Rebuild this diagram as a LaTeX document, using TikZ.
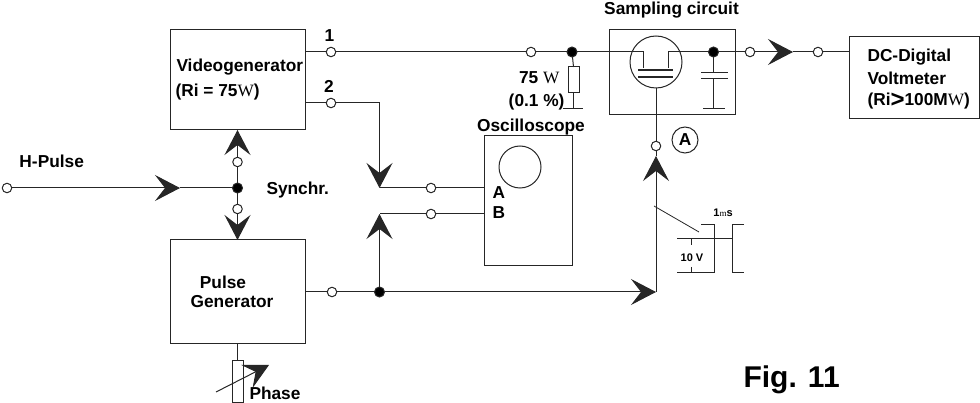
\documentclass[tikz,border=0pt]{standalone}
\usepackage{fontspec}
\setmainfont{Liberation Sans}
\newfontfamily\symfont{Liberation Serif}
\usetikzlibrary{arrows.meta}
\newcommand{\ohm}{{\symfont\mdseries W}}
\tikzset{
  box/.style={draw,rectangle,inner sep=0pt,outer sep=0pt},
  term/.style={draw,circle,fill=white,inner sep=0pt,minimum size=9.5pt,outer sep=0pt},
  jnc/.style={draw,circle,fill=black,inner sep=0pt,minimum size=10pt,outer sep=0pt},
  lbl/.style={inner sep=0pt,font=\fontsize{17.3}{20}\selectfont\bfseries},
  sm/.style={inner sep=0pt,font=\fontsize{11}{13}\selectfont\bfseries},
  big/.style={-{Stealth[length=25pt,width=26pt,inset=10pt]}},
}
\begin{document}
\begin{tikzpicture}[x=1pt,y=-1pt,line width=1pt,draw=black!85]
  \useasboundingbox (0,0) rectangle (980,403);
  %
  % Boxes
  \node[box,minimum width=135pt,minimum height=100pt] (vgen) at (237.5,80) {};
  \node[box,minimum width=135pt,minimum height=104pt] (pgen) at (237.5,292) {};
  \node[box,minimum width=88pt,minimum height=130pt] (scope) at (528,201) {};
  \node[box,minimum width=126pt,minimum height=85pt] (samp) at (672,72.5) {};
  \node[box,minimum width=130pt,minimum height=82pt] (dvm) at (914,78) {};
  \node[box,minimum width=11pt,minimum height=42pt] (phres) at (237.5,381) {};
  \node[box,minimum width=11pt,minimum height=26pt] (rload) at (573.5,80) {};
  %
  % Terminals and junctions
  \node[term] (tone) at (331,52) {};
  \node[term] (ttwo) at (331,103) {};
  \node[term] (tin) at (531,52) {};
  \node[jnc] (jin) at (572,52) {};
  \node[jnc] (jcap) at (713.5,52) {};
  \node[term] (tout) at (750,52) {};
  \node[term] (tdvm) at (818,52) {};
  \node[term] (thp) at (7,188) {};
  \node[jnc] (jsyn) at (237.5,188) {};
  \node[term] (tup) at (237.5,162) {};
  \node[term] (tdn) at (237.5,209) {};
  \node[term] (ta) at (431,188) {};
  \node[term] (tb) at (431,214) {};
  \node[term] (tpg) at (332,292) {};
  \node[jnc] (jpg) at (379.5,292) {};
  \node[term] (tgrid) at (656,146) {};
  %
  % Arrow ends
  \coordinate (acha) at (379.5,188);
  \coordinate (achb) at (379.5,214);
  \coordinate (ahp) at (180,188);
  \coordinate (aout) at (793,52);
  \coordinate (apg) at (656,292);
  \coordinate (agrid) at (656,156);
  %
  % Signal lines
  \draw (tone -| vgen.east) -- (tone) -- (tin) -- (jin) -- (643,52) -- (643,68);
  \draw (668,68) -- (668,52) -- (jcap) -- (tout);
  \draw[big] (tout) -- (aout);
  \draw (aout) -- (tdvm) -- (tdvm -| dvm.west);
  \draw (ttwo -| vgen.east) -- (ttwo);
  \draw[big] (ttwo) -- (379.5,103) -- (acha);
  \draw (acha) -- (ta) -- (ta -| scope.west);
  \draw (tb -| scope.west) -- (tb) -- (achb);
  \draw[big] (jpg) -- (achb);
  \draw[big] (thp) -- (ahp);
  \draw (ahp) -- (jsyn);
  \draw (jsyn) -- (tup);
  \draw[big] (tup) -- (vgen.south);
  \draw (jsyn) -- (tdn);
  \draw[big] (tdn) -- (pgen.north);
  \draw (tpg -| pgen.east) -- (tpg) -- (jpg);
  \draw[big] (jpg) -- (apg);
  \draw[big] (apg) -- (agrid);
  \draw (agrid) -- (tgrid);
  \draw (pgen.south) -- (phres.north);
  %
  % Phase control
  \draw[big] (216,392) -- (269,365);
  %
  % Load resistor
  \draw (jin) -- (rload.north);
  \draw (rload.south) -- (573.5,109);
  \draw (563,109) -- (583,109);
  %
  % Sampling tube
  \node[draw,circle,inner sep=0pt,minimum size=52pt,outer sep=0pt] (tube) at (656,62) {};
  \draw[line width=2.2pt] (638,70) -- (673,70);
  \draw[line width=2.2pt] (638,77) -- (673,77);
  \draw (tube.south) -- (tgrid);
  %
  % Capacitor
  \draw (jcap) -- (713.5,73);
  \draw (713.5,79) -- (713.5,109);
  \draw (701,73) -- (728,73);
  \draw (701,79) -- (728,79);
  \draw (703,109) -- (725,109);
  %
  % Pulse sketch
  \draw[line width=.8pt] (654,206) -- (699,232);
  \draw (677,239) -- (732,239);
  \draw (677,273) -- (714,273) -- (714,225) -- (701,225);
  \draw (744,225) -- (732,225) -- (732,273) -- (744,273);
  \draw (691,239) -- (691,245);
  \draw (691,267) -- (691,273);
  %
  % Scope screen
  \node[draw,circle,inner sep=0pt,minimum size=42pt] (screen) at (520,167) {};
  \node[draw,circle,inner sep=0pt,minimum size=26pt,lbl] (cira) at (685,140) {A};
  %
  % Labels
  \node[lbl,anchor=west] (vname) at (176,67) {Videogenerator};
  \node[lbl,anchor=west] (vri) at (175,92) {(Ri = 75\ohm)};
  \node[lbl] (none) at (329.5,36) {1};
  \node[lbl] (ntwo) at (329,86) {2};
  \node[lbl,anchor=west] (hname) at (19,161) {H-Pulse};
  \node[lbl,anchor=west] (syname) at (266,190) {Synchr.};
  \node[lbl] (pname) at (223,282) {Pulse};
  \node[lbl] (gname) at (232,302) {Generator};
  \node[lbl,anchor=base west] (phname) at (249,399) {Phase};
  \node[lbl] (sname) at (671.5,10) {Sampling circuit};
  \node[lbl] (oname) at (531,127) {Oscilloscope};
  \node[lbl,anchor=west] (aname) at (492,193) {A};
  \node[lbl,anchor=west] (bname) at (492,213) {B};
  \node[lbl,anchor=east] (rval) at (560,78) {75 \ohm};
  \node[lbl,anchor=east] (rtol) at (565,102) {(0.1 \%)};
  \node[lbl,anchor=west] (dname) at (867,57) {DC-Digital};
  \node[lbl,anchor=west] (mname) at (867,78) {Voltmeter};
  \node[lbl,anchor=west] (mri) at (867,101) {(Ri\raisebox{-2pt}{\fontsize{24}{24}\selectfont >}100M\ohm)};
  \node[sm] (vten) at (692,258) {10 V};
  \node[sm] (wid) at (723,213) {1{\symfont\mdseries\fontsize{9}{10}\selectfont m}s};
  \node[inner sep=0pt,font=\fontsize{30}{32}\selectfont\bfseries,anchor=base west] (fig) at (743,387) {Fig. 11};
  %
\end{tikzpicture}
\end{document}
